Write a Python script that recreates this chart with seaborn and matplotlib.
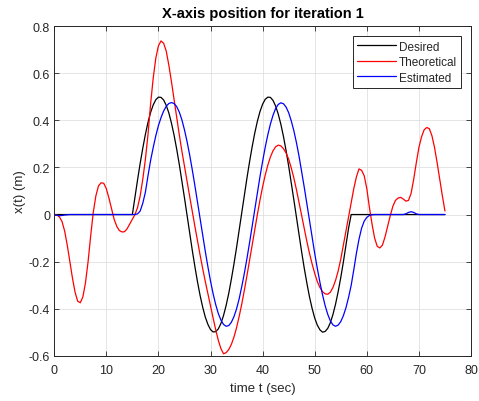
import numpy as np
import pandas as pd
import matplotlib
matplotlib.use("Agg")
import matplotlib.pyplot as plt
from matplotlib.ticker import FuncFormatter
import seaborn as sns

# ---------------- data ----------------
time_s = np.arange(0, 75.5, 0.5)  # sampling instants, 0 .. 75 s

desired = (
    [0.0] * 31 +
    [0.075, 0.148, 0.218, 0.282, 0.341, 0.392, 0.434, 0.466, 0.488, 0.499,
     0.498, 0.487, 0.464, 0.432, 0.389, 0.338, 0.279, 0.214, 0.144, 0.071,
     -0.004, -0.079, -0.152, -0.221, -0.286, -0.344, -0.394, -0.436, -0.467, -0.489,
     -0.499, -0.498, -0.486, -0.463, -0.429, -0.386, -0.335, -0.275, -0.210, -0.140,
     -0.066, 0.008, 0.083, 0.156, 0.225, 0.289, 0.347, 0.397, 0.438, 0.469,
     0.490, 0.499, 0.498, 0.485, 0.461, 0.427, 0.384, 0.332, 0.272, 0.206,
     0.135, 0.062, -0.013, -0.087, -0.160, -0.229, -0.292, -0.350, -0.399, -0.440,
     -0.470, -0.490, -0.500, -0.497, -0.484, -0.460, -0.425, -0.381, -0.328, -0.268,
     -0.202, -0.131, -0.058] +
    [0.0] * 37
)

theoretical = [
    0.0, -0.002, -0.01, -0.03, -0.07, -0.13, -0.2, -0.27, -0.33, -0.368,
    -0.375, -0.35, -0.29, -0.2, -0.09, 0.01, 0.08, 0.122, 0.135, 0.133,
    0.11, 0.07, 0.025, -0.02, -0.05, -0.068, -0.074, -0.073, -0.06, -0.04,
    -0.02, 0.0, 0.03, 0.08, 0.15, 0.235, 0.34, 0.47, 0.58, 0.665,
    0.717, 0.738, 0.728, 0.695, 0.635, 0.565, 0.49, 0.415, 0.34, 0.27,
    0.205, 0.14, 0.077, 0.013, -0.05, -0.112, -0.172, -0.23, -0.285, -0.337,
    -0.39, -0.44, -0.49, -0.535, -0.57, -0.592, -0.587, -0.574, -0.552, -0.521,
    -0.481, -0.433, -0.380, -0.321, -0.259, -0.194, -0.128, -0.062, 0.001, 0.062,
    0.118, 0.168, 0.210, 0.245, 0.271, 0.288, 0.295, 0.292, 0.28, 0.262,
    0.235, 0.198, 0.155, 0.105, 0.05, -0.005, -0.06, -0.115, -0.165, -0.21,
    -0.25, -0.285, -0.31, -0.328, -0.337, -0.339, -0.33, -0.31, -0.28, -0.24,
    -0.19, -0.13, -0.07, -0.01, 0.05, 0.11, 0.16, 0.194, 0.188, 0.165,
    0.11, 0.03, -0.04, -0.1, -0.135, -0.142, -0.13, -0.095, -0.05, -0.005,
    0.035, 0.06, 0.07, 0.073, 0.066, 0.057, 0.06, 0.09, 0.15, 0.22,
    0.285, 0.33, 0.36, 0.37, 0.365, 0.335, 0.285, 0.22, 0.15, 0.08,
    0.015,
]

estimated = (
    [0.0, -0.003, -0.005, -0.004, -0.002, -0.001] +
    [0.0] * 26 +
    [0.003, 0.015, 0.048, 0.095, 0.165, 0.23, 0.285, 0.335, 0.378, 0.412,
     0.44, 0.46, 0.472, 0.476, 0.472, 0.459, 0.436, 0.403, 0.360, 0.310,
     0.253, 0.190, 0.123, 0.053, -0.018, -0.089, -0.157, -0.222, -0.283, -0.337,
     -0.383, -0.421, -0.449, -0.467, -0.475, -0.472, -0.458, -0.434, -0.401, -0.358,
     -0.306, -0.249, -0.186, -0.119, -0.049, 0.022, 0.093, 0.162, 0.226, 0.286,
     0.339, 0.385, 0.422, 0.451, 0.468, 0.475, 0.471, 0.457, 0.433, 0.398,
     0.356, 0.305, 0.247, 0.182, 0.115, 0.045, -0.026, -0.097, -0.165, -0.229,
     -0.288, -0.341, -0.387, -0.424, -0.452, -0.469, -0.475, -0.470, -0.455, -0.430,
     -0.396, -0.352, -0.301, -0.235, -0.165, -0.105, -0.058, -0.028, -0.012, -0.004,
     -0.001] +
    [0.0] * 12 +
    [0.003, 0.009, 0.012, 0.009, 0.003] +
    [0.0] * 11
)

series_names = ["Desired", "Theoretical", "Estimated"]
series_colors = ["black", "red", "blue"]

x_ticks = [0, 10, 20, 30, 40, 50, 60, 70, 80]
y_ticks = [-0.6, -0.4, -0.2, 0, 0.2, 0.4, 0.6, 0.8]

assert len(desired) == len(time_s) == len(theoretical) == len(estimated)

# ---------------- plotting ----------------
sns.set_style("white")
plt.rcParams["font.family"] = ["Liberation Sans", "DejaVu Sans"]
plt.rcParams["axes.unicode_minus"] = False

df = pd.DataFrame({
    "t": np.concatenate([time_s] * 3),
    "x": np.concatenate([desired, theoretical, estimated]),
    "series": np.repeat(series_names, len(time_s)),
})

fig = plt.figure(figsize=(4.79, 4.02), dpi=100)
ax = fig.add_axes([0.1132, 0.1127, 0.9833 - 0.1132, 0.932 - 0.1127])

sns.lineplot(data=df, x="t", y="x", hue="series", hue_order=series_names,
             palette=dict(zip(series_names, series_colors)),
             estimator=None, sort=False, linewidth=0.9, ax=ax)

ax.set_xlim(0, 80)
ax.set_ylim(-0.6, 0.8)
ax.set_xticks(x_ticks)
ax.set_yticks(y_ticks)
ax.yaxis.set_major_formatter(FuncFormatter(lambda v, p: "%g" % round(v, 2)))
ax.grid(True, color="#e0e0e0", linewidth=0.6)
ax.set_axisbelow(True)

dark = "#262626"
for s in ax.spines.values():
    s.set_visible(True)
    s.set_color(dark)
    s.set_linewidth(0.7)
ax.tick_params(direction="in", length=3.5, width=0.6, color=dark,
               labelcolor=dark, labelsize=9, top=True, right=True,
               bottom=True, left=True, pad=3)
ax.tick_params(axis="x", pad=6)

ax.set_title("X-axis position for iteration 1", fontsize=10.5, fontweight="bold",
             color="black", pad=7)
ax.set_xlabel("time t (sec)", fontsize=9.5, color=dark, labelpad=4)
ax.set_ylabel("x(t) (m)", fontsize=9.5, color=dark, labelpad=2)

leg = ax.legend(loc="upper right", fontsize=8.5, frameon=True, fancybox=False,
                edgecolor=dark, framealpha=1, handlelength=3.3,
                handletextpad=0.2, borderaxespad=0.85, borderpad=0.35,
                labelspacing=0.3)
leg.get_frame().set_linewidth(0.7)

fig.savefig("out.png", dpi=100, facecolor="white")
